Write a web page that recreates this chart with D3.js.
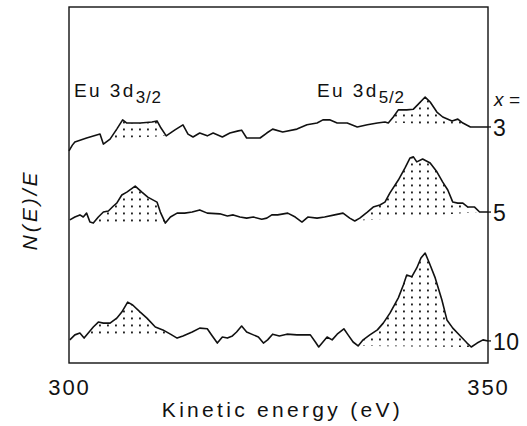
<!DOCTYPE html>
<html>
<head>
<meta charset="utf-8">
<script src="https://cdn.jsdelivr.net/npm/d3@7"></script>
<style>
  html, body { margin: 0; padding: 0; background: #fff; }
  svg { display: block; }
  text { font-family: "Liberation Sans", "DejaVu Sans", sans-serif; fill: #111; }
</style>
</head>
<body>
<svg id="chart" width="527" height="426"></svg>
<script>
// Kinetic energy axis (eV) and tick labels
const energyDomain = [300, 350];
const energyTicks = [300, 350];

// N(E)/E spectra, arbitrary units, each trace already offset vertically: [energy eV, intensity]
const compositions = ["3", "5", "10"];

const spectrum3 = [
  [300.0,59.6],[300.4,61.2],[300.7,62.1],[302.1,63.2],[303.7,64.3],[304.1,61.5],[304.9,62.9],
  [305.7,65.7],[306.4,68.3],[306.9,67.4],[308.5,67.4],[309.9,67.7],[310.5,68.0],[310.9,66.3],
  [311.6,63.8],[312.6,65.4],[313.6,66.9],[314.2,64.3],[314.8,63.5],[315.6,64.6],[316.5,63.8],
  [317.2,64.6],[318.3,63.5],[319.2,64.6],[320.2,65.2],[320.6,65.4],[321.2,63.2],[322.8,63.2],
  [323.6,64.6],[324.3,65.7],[325.5,64.9],[327.2,65.7],[328.4,66.9],[329.6,67.4],[330.3,68.3],
  [331.1,68.3],[332.0,67.4],[333.2,67.4],[334.4,66.3],[335.6,66.9],[336.8,67.4],[337.7,67.7],
  [338.1,67.4],[338.7,69.1],[339.3,71.1],[340.3,71.1],[341.1,71.3],[341.6,72.5],[342.5,74.7],
  [343.1,73.3],[343.9,70.5],[344.6,69.1],[345.7,68.0],[346.4,68.5],[347.0,67.4],[347.9,66.3],
  [350.0,66.3]
];

const spectrum5 = [
  [300.1,40.2],[300.7,41.0],[301.3,41.6],[301.7,41.0],[302.1,42.1],[302.5,39.6],[302.9,39.3],
  [303.5,41.0],[304.1,42.4],[304.7,42.7],[305.3,44.1],[305.7,44.9],[306.3,47.2],[306.9,48.0],
  [307.9,49.7],[308.7,48.0],[309.4,46.6],[310.5,45.2],[310.9,42.4],[311.5,39.3],[312.1,41.0],
  [312.9,42.1],[313.8,42.1],[314.7,42.4],[315.6,43.0],[316.5,42.1],[318.0,41.9],[318.9,41.3],
  [319.6,41.6],[320.4,41.0],[321.2,40.7],[322.0,41.0],[323.0,40.4],[323.6,40.7],[324.2,41.6],
  [324.9,41.6],[326.1,42.1],[327.0,41.0],[327.8,39.6],[328.5,41.0],[329.6,40.7],[330.5,41.0],
  [331.7,41.6],[332.7,42.1],[333.5,40.7],[334.1,39.9],[334.7,40.7],[335.6,42.4],[336.3,43.8],
  [337.1,44.4],[337.7,45.2],[338.3,47.8],[339.3,51.4],[340.1,54.8],[340.7,57.6],[341.1,57.9],
  [341.5,56.5],[342.2,57.3],[343.1,56.2],[343.9,53.7],[344.6,50.8],[345.2,48.6],[345.8,45.2],
  [346.4,44.9],[347.0,44.9],[347.6,43.8],[348.4,43.8],[349.0,42.4],[350.0,42.4]
];

const spectrum10 = [
  [300.1,6.5],[300.7,7.9],[301.3,8.4],[301.8,7.0],[302.3,8.4],[302.9,10.1],[303.5,11.5],
  [304.1,11.2],[304.9,11.2],[305.7,12.6],[306.3,14.3],[307.0,17.1],[307.6,16.3],[308.5,14.3],
  [309.3,12.6],[310.3,10.1],[311.2,9.3],[312.1,8.1],[312.9,7.0],[313.6,7.6],[314.7,8.7],
  [315.6,9.8],[316.5,9.6],[317.1,7.6],[317.7,5.6],[318.3,7.3],[318.9,7.0],[319.5,7.6],
  [320.0,8.7],[320.6,10.4],[321.2,8.7],[322.0,7.9],[322.6,7.3],[323.2,5.6],[323.7,6.5],
  [324.3,8.1],[325.1,7.6],[326.0,8.1],[327.2,7.9],[328.8,7.9],[329.4,5.9],[329.8,4.5],
  [330.3,5.9],[330.8,7.3],[331.4,6.5],[332.0,8.1],[332.8,9.6],[333.3,7.9],[333.9,5.9],
  [334.5,4.8],[335.1,6.5],[335.9,7.9],[336.8,9.3],[337.5,11.2],[338.3,14.0],[339.3,18.3],
  [339.9,21.9],[340.3,24.7],[340.9,24.2],[341.5,26.7],[342.0,29.5],[342.5,30.9],[343.0,28.1],
  [343.7,23.9],[344.5,17.7],[345.1,12.1],[345.8,9.8],[346.7,7.6],[347.5,5.6],[348.0,4.5],
  [348.7,5.6],[349.4,6.5],[350.0,6.2]
];

// Energy windows of the Eu 3d3/2 and 3d5/2 peaks, shaded above a linear background
const peaks3 = [[304.9, 311.6], [337.7, 347.9]];
const peaks5 = [[302.9, 311.5], [334.1, 349.0]];
const peaks10 = [[301.8, 312.9], [334.5, 348.0]];

const peakNames = ["3/2", "5/2"];
const peakLabelEnergies = [300.6, 329.6];

const series = [
  { name: compositions[0], data: spectrum3, peaks: peaks3 },
  { name: compositions[1], data: spectrum5, peaks: peaks5 },
  { name: compositions[2], data: spectrum10, peaks: peaks10 }
];

const svg = d3.select("#chart");
const frame = { left: 69, right: 488, top: 7, bottom: 363 };

const x = d3.scaleLinear().domain(energyDomain).range([frame.left, frame.right]);
const y = d3.scaleLinear().domain([0, 100]).range([frame.bottom, frame.top]);

// stipple used to fill the peak areas
const defs = svg.append("defs");
const pat = defs.append("pattern")
  .attr("id", "stipple")
  .attr("patternUnits", "userSpaceOnUse")
  .attr("width", 8).attr("height", 7);
pat.append("rect").attr("x", 3).attr("y", 2.5).attr("width", 1.9).attr("height", 1.9).attr("fill", "#222");

// plot frame
svg.append("rect")
  .attr("x", frame.left).attr("y", frame.top)
  .attr("width", frame.right - frame.left).attr("height", frame.bottom - frame.top)
  .attr("fill", "none").attr("stroke", "#111").attr("stroke-width", 1.4);

const line = d3.line().x(d => x(d[0])).y(d => y(d[1]));

function valueAt(data, e) {
  const i = d3.bisector(d => d[0]).left(data, e);
  if (i <= 0) return data[0][1];
  if (i >= data.length) return data[data.length - 1][1];
  const a = data[i - 1], b = data[i];
  return a[1] + (b[1] - a[1]) * (e - a[0]) / (b[0] - a[0]);
}

series.forEach(s => {
  // shaded peaks
  s.peaks.forEach(([e0, e1]) => {
    const v0 = valueAt(s.data, e0), v1 = valueAt(s.data, e1);
    const pts = s.data.filter(d => d[0] >= e0 && d[0] <= e1);
    const bg = e => v0 + (v1 - v0) * (e - e0) / (e1 - e0);
    const area = d3.area()
      .x(d => x(d[0]))
      .y0(d => y(bg(d[0])))
      .y1(d => y(d[1]));
    svg.append("path").datum(pts)
      .attr("d", area)
      .attr("fill", "url(#stipple)");
  });

  svg.append("path").datum(s.data)
    .attr("d", line)
    .attr("fill", "none")
    .attr("stroke", "#111")
    .attr("stroke-width", 1.6)
    .attr("stroke-linejoin", "round");

  const last = s.data[s.data.length - 1];
  svg.append("line")
    .attr("x1", x(last[0])).attr("x2", x(last[0]) + 3)
    .attr("y1", y(last[1])).attr("y2", y(last[1]))
    .attr("stroke", "#111").attr("stroke-width", 1.3);
  svg.append("text")
    .attr("x", x(last[0]) + 5)
    .attr("y", y(last[1]) + 9)
    .attr("font-size", 23)
    .attr("letter-spacing", 0.5)
    .text(s.name);
});

// composition header
svg.append("text")
  .attr("x", 494).attr("y", 106)
  .attr("font-size", 19)
  .attr("font-style", "italic")
  .text("x =");

// peak labels
peakNames.forEach((sub, i) => {
  const t = svg.append("text")
    .attr("x", x(peakLabelEnergies[i]))
    .attr("y", 97)
    .attr("font-size", 19)
    .attr("letter-spacing", 2.4);
  t.append("tspan").text("Eu 3d");
  t.append("tspan").attr("font-size", 17).attr("dy", 6).attr("letter-spacing", 0.8).text(sub);
});

// energy axis labels
const axis = d3.axisBottom(x).tickValues(energyTicks).tickSize(0).tickPadding(16).tickFormat(d3.format("d"));
const gx = svg.append("g").attr("transform", `translate(0,${frame.bottom})`).call(axis);
gx.select(".domain").remove();
gx.selectAll("text")
  .attr("font-size", 22)
  .attr("letter-spacing", 2)
  .attr("font-family", "Liberation Sans, DejaVu Sans, sans-serif")
  .attr("fill", "#111");

svg.append("text")
  .attr("x", (frame.left + frame.right) / 2 + 4)
  .attr("y", 417)
  .attr("text-anchor", "middle")
  .attr("font-size", 21)
  .attr("letter-spacing", 3.3)
  .text("Kinetic energy (eV)");

svg.append("text")
  .attr("transform", "translate(37,210) rotate(-90)")
  .attr("text-anchor", "middle")
  .attr("font-size", 21)
  .attr("font-style", "italic")
  .attr("letter-spacing", 3)
  .text("N(E)/E");
</script>
</body>
</html>
